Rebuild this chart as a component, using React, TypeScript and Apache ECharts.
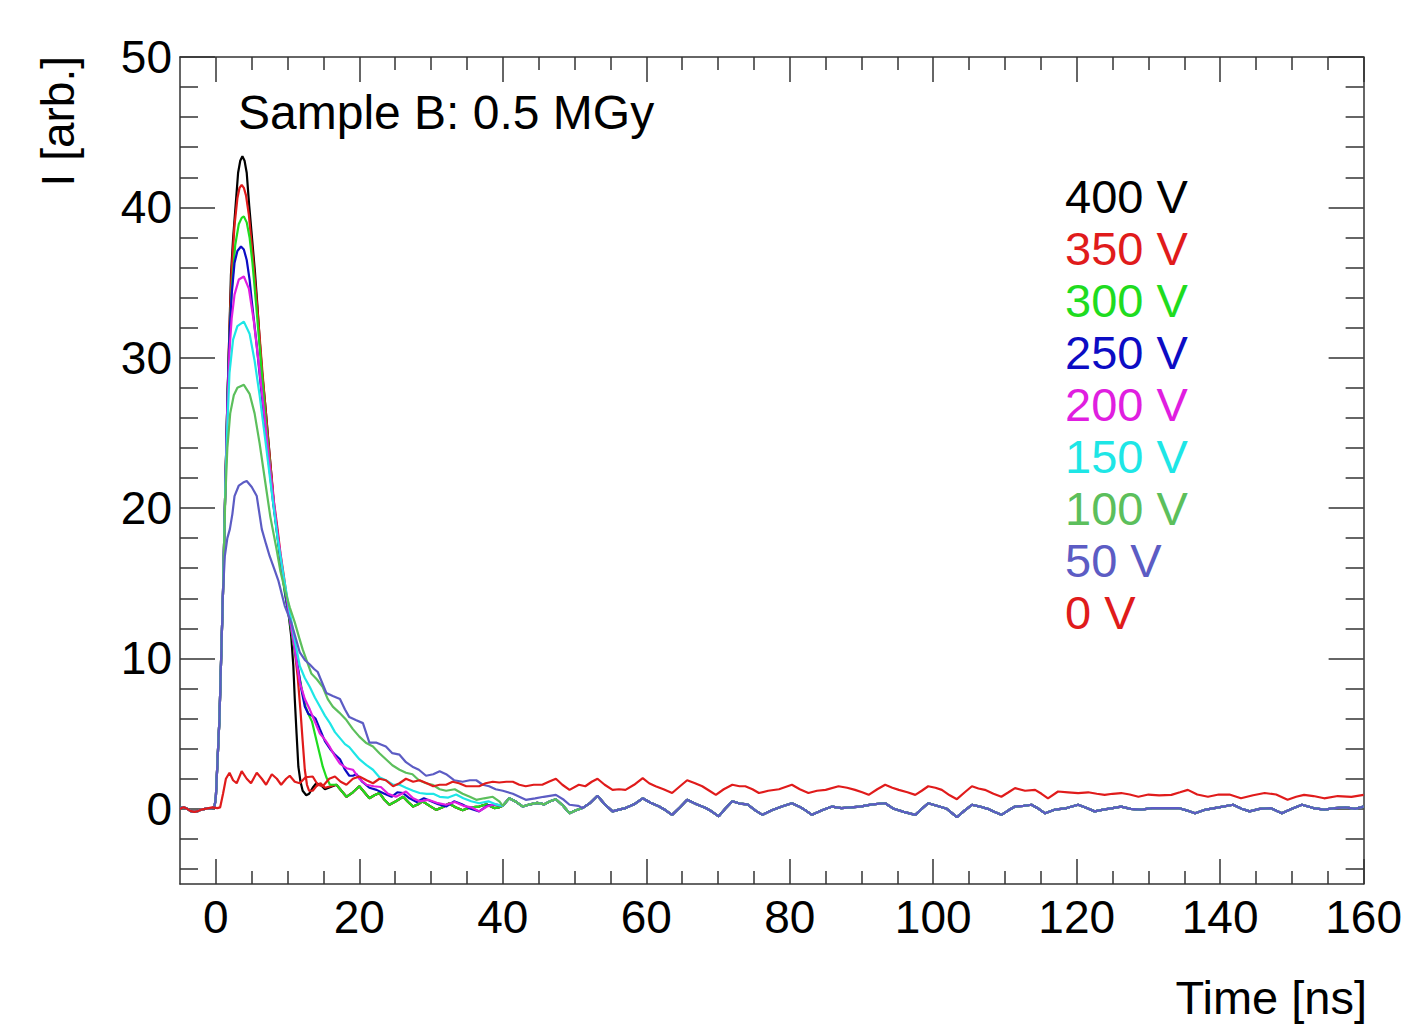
import React, { useEffect, useRef } from 'react';
import * as echarts from 'echarts';

const FONT = '"Liberation Sans", Arial, Helvetica, sans-serif';

const seriesNames = ['400 V', '350 V', '300 V', '250 V', '200 V', '150 V', '100 V', '50 V', '0 V'];
const seriesColors = ['#000000', '#e01b1b', '#1fdc1f', '#0c0cc4', '#e01ee0', '#1ee6e6', '#5cbf5c', '#5c5cc4', '#e01b1b'];

const xMajorTicks = [0, 20, 40, 60, 80, 100, 120, 140, 160];
const xMinorTicks = [5, 10, 15, 25, 30, 35, 45, 50, 55, 65, 70, 75, 85, 90, 95, 105, 110, 115, 125, 130, 135, 145, 150, 155];
const yMajorTicks = [0, 10, 20, 30, 40, 50];
const yMinorTicks = [-4, -2, 2, 4, 6, 8, 12, 14, 16, 18, 22, 24, 26, 28, 32, 34, 36, 38, 42, 44, 46, 48];

type P = [number, number];

// common pre-trigger baseline and rising edge of biased curves
const baseline: P[] = [[-5, 0.05], [-4.5, 0.1], [-4, 0.0], [-3.5, -0.15], [-3, -0.2], [-2.5, -0.15], [-2, -0.05], [-1.5, 0.0], [-1, 0.05], [-0.5, 0.05], [-0.2, 0.1]];
const rising: P[] = [[0, 0.8], [0.5, 6], [1.0, 14.5]];

const head400: P[] = [[1.3, 21], [1.6, 27], [1.9, 32], [2.1, 35.5], [2.4, 37.9], [2.75, 40.1], [3.1, 42.3], [3.4, 43.1], [3.7, 43.4], [4.0, 43.1], [4.3, 42.3], [4.65, 40.1], [5.05, 37.9], [5.45, 35.7], [5.8, 33.4], [6.1, 31.2], [6.45, 29], [6.9, 26.8], [7.3, 24.6], [7.7, 22.4], [8.1, 20.1], [8.6, 18.3], [9.0, 16.6], [9.4, 15.2], [9.8, 13.9], [10.2, 12.7], [10.5, 11.5], [10.8, 9.5], [11.0, 7.3], [11.25, 5.0], [11.5, 2.8], [11.8, 1.8], [12.1, 1.2], [12.6, 0.9], [13.0, 1.0], [13.5, 1.4], [14.0, 1.7], [14.6, 1.6], [15.2, 1.3]];
const head350: P[] = [[1.3, 21], [1.6, 27], [1.9, 32], [2.2, 35.8], [2.6, 38.8], [3.0, 40.6], [3.3, 41.3], [3.6, 41.5], [3.9, 41.3], [4.2, 40.8], [4.6, 39.5], [5.2, 36.5], [5.8, 33.2], [6.5, 29], [7.3, 24.5], [8.1, 20.4], [8.6, 18.6], [9.0, 17], [9.5, 15.4], [9.9, 14], [10.3, 12.8], [10.7, 11.5], [11.0, 10.5], [11.4, 8.8], [11.8, 6.5], [12.1, 4.5], [12.4, 2.6], [12.7, 1.6], [13.0, 1.2], [13.5, 1.2], [14.0, 1.5], [14.6, 1.7], [15.2, 1.4]];
const head300: P[] = [[1.3, 21], [1.6, 27], [1.9, 31.5], [2.2, 34.5], [2.7, 37.5], [3.2, 38.9], [3.6, 39.3], [3.9, 39.4], [4.3, 39.0], [4.7, 38.0], [5.1, 36.3], [5.6, 33.6], [6.3, 29.6], [7.0, 25.6], [7.8, 21.5], [8.7, 17.6], [9.6, 14.4], [10.2, 12.8], [10.8, 11.0], [11.4, 9.4], [12.0, 7.9], [12.5, 6.8], [13.0, 6.2], [13.4, 5.8], [13.9, 4.8], [14.4, 3.8], [14.9, 2.8], [15.4, 2.1], [15.9, 1.6]];
const head250: P[] = [[1.3, 21], [1.6, 27], [1.9, 31.5], [2.2, 34.2], [2.6, 36.3], [3.0, 37.1], [3.5, 37.4], [3.9, 37.2], [4.3, 36.5], [4.7, 35.2], [5.0, 33.8], [5.7, 30.8], [6.4, 27.5], [7.2, 23.8], [8.0, 20.3], [8.9, 17], [9.8, 14], [10.6, 11.8], [11.3, 9.8], [11.9, 8.0], [12.4, 6.8], [12.9, 6.3], [13.4, 6.2], [13.9, 6.0], [14.5, 5.3], [15.2, 4.5], [15.9, 4.0], [16.6, 3.6], [17.3, 3.3], [18.0, 2.6], [18.6, 2.2], [19.1, 2.2], [19.6, 2.3], [20.4, 1.8], [21.4, 1.4], [22.4, 1.26], [23.5, 1.0], [24.5, 0.8], [25.3, 1.1], [26.1, 1.05], [27.0, 0.7], [28.0, 0.45], [29.0, 0.7], [30.0, 0.5], [31.0, 0.3], [32.1, 0.15], [33.2, 0.5], [34.3, 0.3], [35.5, 0.0], [36.7, -0.17], [37.8, 0.2], [38.8, 0.3]];
const head200: P[] = [[1.3, 21], [1.6, 26.5], [1.9, 30.5], [2.2, 32.6], [2.6, 34.2], [3.2, 35.2], [3.9, 35.4], [4.6, 34.6], [5.3, 32.4], [6.0, 29.5], [6.8, 26], [7.6, 22.4], [8.5, 18.7], [9.4, 15.5], [10.2, 13], [11.0, 10.6], [11.7, 8.4], [12.4, 7.3], [13.1, 6.6], [13.8, 5.8], [14.5, 5.0], [15.2, 4.6], [15.9, 4.1], [16.6, 3.5], [17.3, 3.0], [18.2, 2.7], [19.1, 2.6], [20.0, 2.0], [21.0, 1.6], [22.0, 1.5], [23.0, 1.45], [24.0, 1.0], [25.1, 0.8], [26.5, 1.15], [27.5, 0.7], [28.4, 0.5], [29.6, 0.6], [30.8, 0.4], [32.1, 0.27], [33.3, 0.45], [34.5, 0.2], [35.6, 0.1], [36.7, -0.17], [37.8, 0.15], [38.8, 0.3]];
const head150: P[] = [[1.3, 21], [1.6, 25.5], [1.9, 29], [2.4, 31.2], [3.0, 32.1], [3.9, 32.4], [4.7, 31.6], [5.4, 29.8], [6.1, 27.5], [6.9, 24.5], [7.7, 21.4], [8.6, 18], [9.5, 15.3], [10.3, 13.1], [11.0, 11.2], [11.7, 9.5], [12.4, 8.7], [13.1, 8.1], [13.8, 7.4], [14.5, 6.8], [15.2, 6.2], [15.9, 5.7], [16.6, 5.1], [17.3, 4.7], [18.0, 4.3], [18.6, 4.1], [19.3, 3.7], [20.0, 3.3], [21.0, 2.9], [21.9, 2.6], [22.8, 2.1], [23.7, 1.9], [24.7, 1.6], [25.6, 1.6], [26.5, 1.4], [27.5, 1.2], [28.4, 1.05], [29.4, 1.0], [30.3, 1.0], [31.2, 0.8], [32.4, 0.75], [33.5, 0.95], [34.5, 0.7], [35.6, 0.5], [36.7, 0.37], [38.0, 0.5], [39.0, 0.3]];
const head100: P[] = [[1.3, 20.5], [1.6, 24], [2.0, 26.3], [2.5, 27.5], [3.0, 28.0], [3.9, 28.2], [4.7, 27.6], [5.4, 26.3], [6.1, 24.3], [6.8, 22], [7.6, 19.4], [8.45, 17.3], [9.0, 15.8], [9.6, 14.6], [10.3, 13.4], [11.0, 12.4], [11.6, 11.4], [12.1, 10.6], [12.7, 9.8], [13.3, 9.0], [14.1, 8.6], [14.9, 8.1], [15.6, 7.3], [16.3, 6.8], [17.2, 6.4], [18.2, 5.9], [19.1, 5.3], [20.0, 4.8], [20.9, 4.4], [21.9, 4.15], [22.8, 3.7], [23.7, 3.3], [24.6, 2.9], [25.6, 2.6], [26.5, 2.4], [27.4, 2.3], [28.3, 1.9], [29.3, 1.7], [30.2, 1.6], [31.2, 1.3], [32.1, 1.2], [33.3, 1.3], [34.4, 1.0], [35.4, 0.8], [36.3, 0.6], [37.4, 0.7], [38.6, 0.8], [39.5, 0.5]];
const head50: P[] = [[1.25, 16.8], [1.6, 18.0], [1.95, 18.6], [2.3, 19.6], [2.6, 20.8], [3.2, 21.5], [3.8, 21.7], [4.3, 21.8], [5.0, 21.4], [5.7, 20.8], [6.4, 18.6], [7.0, 17.6], [7.5, 16.8], [8.1, 16.0], [8.7, 15.2], [9.6, 13.5], [10.5, 12.4], [11.1, 11.4], [11.7, 10.4], [12.4, 9.9], [13.1, 9.6], [13.7, 9.3], [14.2, 9.1], [14.8, 8.4], [15.4, 7.7], [16.3, 7.5], [17.3, 7.3], [18.0, 6.6], [18.6, 6.1], [19.5, 5.9], [20.5, 5.7], [21.4, 4.4], [22.4, 4.4], [23.7, 4.15], [24.6, 3.7], [25.6, 3.6], [26.5, 3.1], [27.4, 2.8], [28.3, 2.6], [29.3, 2.2], [30.3, 2.3], [31.2, 2.5], [32.1, 2.3], [33.2, 1.9], [34.4, 1.8], [35.4, 1.9], [36.3, 1.9], [37.2, 1.6], [38.1, 1.5], [39.0, 1.3], [40.0, 1.2], [41.4, 1.0], [42.3, 0.8], [43.2, 0.6], [44.5, 0.7], [45.7, 0.8], [47.4, 0.93], [48.5, 0.6], [49.3, 0.27], [50.5, 0.2]];

// shared decay of the highest-bias curves, then shared tail of all biased curves
const highVTail: P[] = [[16.8, 1.6], [17.5, 1.2], [18.2, 0.8], [19.1, 1.1], [20.0, 1.5], [20.7, 1.1], [21.4, 0.7], [22.1, 0.9], [22.8, 1.05], [23.5, 0.6], [24.2, 0.27], [25.1, 0.5], [26.1, 0.8], [26.8, 0.45], [27.5, 0.15], [28.2, 0.3], [28.8, 0.5], [29.8, 0.2], [30.7, -0.07], [31.6, 0.1], [32.5, 0.35], [33.4, 0.1], [34.4, -0.1], [35.5, 0.1], [36.7, 0.15], [37.7, 0.3], [38.8, 0.05], [39.5, 0.1]];
const biasedTail: P[] = [[40, 0.2], [40.9, 0.7], [41.9, 0.45], [42.8, 0.15], [43.8, 0.3], [44.8, 0.4], [45.8, 0.3], [46.6, 0.5], [47.4, 0.64], [48.4, 0.2], [49.3, -0.3], [50.2, -0.1], [51.1, 0.05], [52.2, 0.4], [53.2, 0.87], [54.2, 0.3], [55.3, -0.17], [56.2, -0.05], [57.1, 0.05], [58.3, 0.3], [59.5, 0.7], [60.6, 0.4], [61.8, 0.15], [62.7, -0.1], [63.6, -0.4], [64.7, 0.1], [65.7, 0.6], [67.0, 0.3], [68.3, 0.05], [69.2, -0.2], [70.1, -0.5], [71.0, 0.0], [72.0, 0.5], [73.0, 0.35], [74.1, 0.3], [75.2, -0.1], [76.2, -0.4], [77.5, -0.1], [78.9, 0.15], [80.3, 0.37], [81.5, 0.1], [82.2, -0.1], [83.1, -0.4], [84.5, -0.1], [85.9, 0.15], [87.2, 0.05], [88.5, 0.1], [89.8, 0.15], [91.5, 0.3], [93.3, 0.37], [94.5, 0.0], [95.9, -0.2], [97.5, -0.4], [98.4, 0.0], [99.3, 0.37], [100.5, 0.2], [101.9, 0.0], [103.3, -0.55], [104.4, -0.1], [105.4, 0.27], [106.5, 0.15], [107.6, 0.0], [108.5, -0.2], [109.5, -0.4], [110.5, -0.1], [111.4, 0.15], [112.6, 0.2], [113.7, 0.27], [114.7, 0.0], [115.6, -0.3], [117.0, -0.05], [118.6, 0.05], [120.2, 0.27], [121.4, 0.05], [122.5, -0.17], [123.7, -0.05], [125.0, 0.05], [126.2, 0.15], [127.5, 0.0], [129.0, -0.05], [130.5, 0.05], [132.5, 0.05], [134.2, 0.05], [135.3, -0.1], [136.5, -0.3], [138.0, -0.05], [139.8, 0.1], [141.8, 0.27], [143.0, 0.0], [144.1, -0.17], [145.5, 0.0], [147.0, 0.05], [148.6, -0.3], [150.0, 0.0], [151.4, 0.27], [153.0, 0.05], [154.5, -0.05], [156.0, 0.05], [157.5, 0.1], [158.8, 0.0], [160.0, 0.15]];

const curve0V: P[] = [[-5, 0.0], [-4.5, 0.1], [-4, 0.0], [-3.5, -0.15], [-3, -0.2], [-2.5, -0.15], [-2, -0.05], [-1.5, 0.0], [-1, 0.05], [-0.5, 0.1], [0.2, 0.05], [0.6, 0.1], [1.0, 1.0], [1.4, 2.0], [1.9, 2.4], [2.4, 1.9], [2.9, 1.7], [3.6, 2.5], [4.3, 2.0], [4.9, 1.7], [5.7, 2.4], [6.4, 2.0], [7.0, 1.6], [7.8, 2.3], [8.5, 2.0], [9.1, 1.6], [9.8, 2.0], [10.3, 2.2], [11.0, 1.8], [11.7, 1.7], [12.5, 2.1], [13.5, 2.15], [14.2, 1.6], [14.9, 1.5], [15.8, 2.0], [16.6, 2.15], [17.4, 1.8], [18.2, 1.6], [19.1, 2.0], [20.0, 2.15], [21.0, 1.9], [21.9, 1.7], [22.8, 2.0], [23.7, 1.9], [24.7, 1.5], [25.6, 1.7], [26.5, 2.0], [27.5, 1.8], [28.4, 1.9], [29.4, 1.7], [30.3, 1.5], [31.2, 1.6], [32.1, 1.6], [33.0, 1.8], [33.9, 1.7], [34.9, 1.5], [35.8, 1.5], [36.7, 1.5], [37.6, 1.7], [38.6, 1.8], [39.5, 1.75], [40.5, 1.8], [41.4, 1.8], [42.3, 1.6], [43.2, 1.5], [44.3, 1.6], [45.5, 1.6], [46.4, 1.8], [47.4, 2.0], [48.3, 1.6], [49.3, 1.26], [50.6, 1.6], [51.5, 1.5], [52.4, 1.8], [53.2, 2.0], [54.2, 1.6], [55.3, 1.26], [56.2, 1.3], [57.1, 1.26], [58.3, 1.6], [59.5, 2.04], [60.4, 1.7], [61.3, 1.5], [62.4, 1.3], [63.6, 1.05], [64.7, 1.5], [65.7, 1.9], [66.8, 1.7], [67.8, 1.5], [68.8, 1.2], [69.7, 0.93], [70.8, 1.3], [72.0, 1.6], [73.0, 1.5], [73.8, 1.5], [74.8, 1.3], [75.7, 1.05], [77.0, 1.2], [78.5, 1.3], [80.3, 1.6], [81.4, 1.3], [82.6, 1.05], [83.8, 1.2], [85.0, 1.26], [86.8, 1.5], [88.0, 1.4], [89.1, 1.26], [90.1, 1.1], [91.0, 0.93], [92.2, 1.3], [93.3, 1.6], [94.3, 1.4], [95.2, 1.26], [96.4, 1.1], [97.5, 0.93], [98.4, 1.2], [99.3, 1.5], [100.3, 1.4], [101.2, 1.26], [102.3, 0.9], [103.3, 0.64], [104.4, 1.1], [105.4, 1.5], [106.3, 1.35], [107.2, 1.26], [108.4, 1.0], [109.5, 0.8], [110.5, 1.1], [111.4, 1.38], [112.8, 1.2], [114.2, 1.26], [115.1, 1.0], [116.0, 0.7], [117.4, 1.15], [118.8, 1.1], [120.2, 1.05], [121.6, 1.1], [122.8, 1.0], [123.9, 0.93], [125.0, 1.0], [126.2, 1.05], [127.4, 0.95], [128.6, 0.8], [130.0, 0.95], [131.5, 0.9], [133.2, 0.93], [134.4, 1.1], [135.5, 1.26], [136.8, 0.95], [138.3, 0.8], [139.8, 0.95], [141.3, 0.95], [142.9, 0.7], [144.6, 0.9], [146.2, 1.05], [147.8, 0.95], [149.4, 0.6], [150.6, 0.8], [151.7, 0.93], [153.0, 0.85], [154.5, 0.7], [156.4, 0.85], [158.3, 0.8], [160.0, 0.93]];

function joinCurve(parts: P[][]): P[] {
  const out: P[] = [];
  for (const part of parts) {
    for (const p of part) {
      if (out.length === 0 || p[0] > out[out.length - 1][0]) out.push(p);
    }
  }
  return out;
}

const seriesData: P[][] = [
  joinCurve([baseline, rising, head400, highVTail, biasedTail]),
  joinCurve([baseline, rising, head350, highVTail, biasedTail]),
  joinCurve([baseline, rising, head300, highVTail, biasedTail]),
  joinCurve([baseline, rising, head250, biasedTail]),
  joinCurve([baseline, rising, head200, biasedTail]),
  joinCurve([baseline, rising, head150, biasedTail]),
  joinCurve([baseline, rising, head100, biasedTail]),
  joinCurve([baseline, rising, head50, biasedTail]),
  curve0V,
];

const AX = '#333333';

function xAxisDef(position: 'bottom' | 'top', major: boolean, labels: boolean) {
  return {
    type: 'value',
    min: -5,
    max: 160,
    position,
    axisLine: { show: major, onZero: false, lineStyle: { color: AX, width: 1.5 } },
    axisTick: {
      show: true,
      inside: true,
      length: major ? 25 : 13,
      customValues: major ? xMajorTicks : xMinorTicks,
      lineStyle: { color: AX, width: 1.5 },
    },
    axisLabel: labels
      ? { show: true, customValues: xMajorTicks, fontSize: 46, color: '#000', fontFamily: FONT, margin: 10 }
      : { show: false },
    splitLine: { show: false },
  };
}

function yAxisDef(position: 'left' | 'right', major: boolean, labels: boolean) {
  return {
    type: 'value',
    min: -5,
    max: 50,
    position,
    axisLine: { show: major, onZero: false, lineStyle: { color: AX, width: 1.5 } },
    axisTick: {
      show: true,
      inside: true,
      length: major ? 35 : 18,
      customValues: major ? yMajorTicks : yMinorTicks,
      lineStyle: { color: AX, width: 1.5 },
    },
    axisLabel: labels
      ? { show: true, customValues: yMajorTicks, fontSize: 46, color: '#000', fontFamily: FONT, margin: 8 }
      : { show: false },
    splitLine: { show: false },
  };
}

export default function App() {
  const ref = useRef<HTMLDivElement>(null);
  useEffect(() => {
    document.body.style.margin = '0';
    const chart = echarts.init(ref.current!, null, { renderer: 'svg' });
    const option: any = {
      animation: false,
      backgroundColor: '#ffffff',
      textStyle: { fontFamily: FONT },
      title: {
        text: 'Sample B: 0.5 MGy',
        left: 238,
        top: 88,
        padding: 0,
        textStyle: { fontSize: 48, fontWeight: 'normal', color: '#000', fontFamily: FONT },
      },
      legend: {
        orient: 'vertical',
        left: 1060,
        top: 170,
        padding: 0,
        itemGap: 0,
        itemWidth: 0,
        itemHeight: 0,
        icon: 'none',
        selectedMode: false,
        textStyle: { fontSize: 47, fontFamily: FONT, lineHeight: 52 },
        data: seriesNames.map((n, i) => ({ name: n, icon: 'none', textStyle: { color: seriesColors[i] } })),
      },
      grid: { left: 180, top: 57, right: 39, bottom: 142, containLabel: false },
      xAxis: [
        xAxisDef('bottom', true, true),
        xAxisDef('bottom', false, false),
        xAxisDef('top', true, false),
        xAxisDef('top', false, false),
      ],
      yAxis: [
        yAxisDef('left', true, true),
        yAxisDef('left', false, false),
        yAxisDef('right', true, false),
        yAxisDef('right', false, false),
      ],
      graphic: [
        {
          type: 'text',
          x: 1367,
          y: 997,
          style: { text: 'Time [ns]', fontSize: 47, fill: '#000', fontFamily: FONT, align: 'right', verticalAlign: 'middle' },
        },
        {
          type: 'text',
          x: 58,
          y: 56,
          rotation: Math.PI / 2,
          style: { text: 'I [arb.]', fontSize: 46, fill: '#000', fontFamily: FONT, align: 'right', verticalAlign: 'middle' },
        },
      ],
      series: seriesNames.map((name, i) => ({
        name,
        type: 'line',
        xAxisIndex: 0,
        yAxisIndex: 0,
        data: seriesData[i],
        showSymbol: false,
        symbol: 'none',
        smooth: false,
        clip: true,
        color: seriesColors[i],
        lineStyle: { color: seriesColors[i], width: 2.2 },
        emphasis: { disabled: true },
      })),
    };
    chart.setOption(option);
    return () => chart.dispose();
  }, []);
  return <div ref={ref} style={{ width: 1405, height: 1026 }} />;
}
